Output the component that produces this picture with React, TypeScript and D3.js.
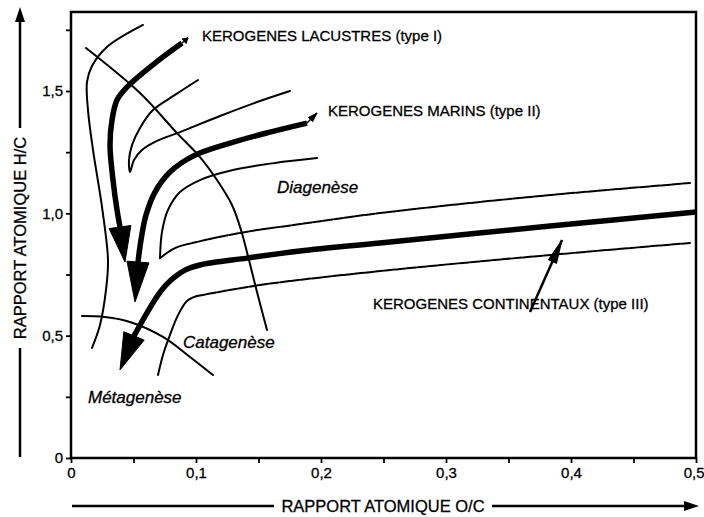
import React, { useEffect, useRef } from 'react';
import * as d3 from 'd3';

type Pt = [number, number];

// axis ticks (O/C and H/C)
const OC_TICKS = [0, 0.05, 0.1, 0.15, 0.2, 0.25, 0.3, 0.35, 0.4, 0.45, 0.5];
const HC_TICKS = [0, 0.25, 0.5, 0.75, 1.0, 1.25, 1.5, 1.75];
const OC_LABELED = [0, 0.1, 0.2, 0.3, 0.4, 0.5];
const HC_LABELED = [0, 0.5, 1.0, 1.5];

// type I outer envelope
const TYPE1_OUTER: Pt[] = [
  [0.0576, 1.770], [0.0288, 1.680], [0.0168, 1.602], [0.0128, 1.537], [0.0136, 1.422],
  [0.0176, 1.259], [0.0248, 1.026], [0.0296, 0.809], [0.0280, 0.687], [0.0232, 0.544], [0.0168, 0.450]
];
// type I main path
const TYPE1_MAIN: Pt[] = [
  [0.0888, 1.696], [0.0672, 1.614], [0.0448, 1.516], [0.0368, 1.463], [0.0328, 1.381],
  [0.0312, 1.279], [0.0336, 1.136], [0.0368, 1.014], [0.0392, 0.944]
];
const TYPE1_TIP: Pt = [0.0432, 0.801];
const TYPE1_TOP_TIP: Pt = [0.0936, 1.717];

// boundary between type I and type II
const TYPE12_BOUND: Pt[] = [
  [0.1016, 1.545], [0.0832, 1.484], [0.0656, 1.422], [0.0552, 1.349], [0.0488, 1.279],
  [0.0464, 1.218], [0.0472, 1.169], [0.0504, 1.218], [0.0568, 1.259], [0.0688, 1.296],
  [0.0872, 1.332], [0.1192, 1.398], [0.1512, 1.459], [0.1752, 1.500]
];

// type II main path
const TYPE2_MAIN: Pt[] = [
  [0.1888, 1.369], [0.1592, 1.332], [0.1272, 1.287], [0.0976, 1.234], [0.0792, 1.169],
  [0.0672, 1.087], [0.0600, 0.993], [0.0560, 0.891], [0.0536, 0.801]
];
const TYPE2_TIP: Pt = [0.0512, 0.638];
const TYPE2_TOP_TIP: Pt = [0.1968, 1.410];

// boundary between type II and type III
const TYPE23_LEFT: Pt[] = [
  [0.1968, 1.226], [0.1632, 1.206], [0.1296, 1.177], [0.1032, 1.136], [0.0872, 1.087],
  [0.0776, 1.014], [0.0728, 0.924], [0.0712, 0.817]
];
const TYPE23_RIGHT: Pt[] = [
  [0.0712, 0.817], [0.0832, 0.858], [0.1008, 0.883], [0.1352, 0.920], [0.1832, 0.956],
  [0.2472, 1.001], [0.3672, 1.067], [0.4952, 1.124]
];

// type III main path
const TYPE3_MAIN: Pt[] = [
  [0.5, 1.005], [0.3832, 0.948], [0.2472, 0.879], [0.1832, 0.846], [0.1408, 0.817],
  [0.1032, 0.789], [0.0912, 0.768], [0.0792, 0.723], [0.0696, 0.666], [0.0608, 0.593], [0.0504, 0.499]
];
const TYPE3_TIP: Pt = [0.0392, 0.360];

// type III lower envelope
const TYPE3_LOWER_KNEE: Pt[] = [
  [0.0696, 0.339], [0.0736, 0.421], [0.0792, 0.503], [0.0856, 0.584], [0.0928, 0.642], [0.1008, 0.662]
];
const TYPE3_LOWER: Pt[] = [
  [0.1008, 0.662], [0.1512, 0.707], [0.2472, 0.764], [0.3752, 0.826], [0.4952, 0.879]
];

// diagenese / catagenese limit
const DIAGENESE_LIMIT: Pt[] = [
  [0.0120, 1.676], [0.0552, 1.492], [0.0848, 1.328], [0.1032, 1.230], [0.1168, 1.136],
  [0.1288, 1.034], [0.1360, 0.932], [0.1424, 0.809], [0.1488, 0.678], [0.1568, 0.523]
];
// catagenese / metagenese limit
const CATAGENESE_LIMIT: Pt[] = [
  [0.0088, 0.580], [0.0272, 0.576], [0.0472, 0.556], [0.0736, 0.495], [0.0952, 0.413], [0.1136, 0.339]
];

// pointer to type III label
const TYPE3_POINTER: Pt[] = [[0.3672, 0.597], [0.3928, 0.891]];

const LABELS = [
  { text: 'KEROGENES LACUSTRES (type I)', at: [0.1048, 1.725] as Pt, italic: false },
  { text: 'KEROGENES MARINS (type II)', at: [0.2056, 1.418] as Pt, italic: false },
  { text: 'Diagenèse', at: [0.1648, 1.108] as Pt, italic: true },
  { text: 'KEROGENES CONTINENTAUX (type III)', at: [0.2416, 0.630] as Pt, italic: false },
  { text: 'Catagenèse', at: [0.0896, 0.474] as Pt, italic: true },
  { text: 'Métagenèse', at: [0.0136, 0.249] as Pt, italic: true }
];

const FONT = "'Liberation Sans', Arial, Helvetica, sans-serif";
const fmt = (d: number) => (d === 0 ? '0' : d.toFixed(1).replace('.', ','));

const App = () => {
  const ref = useRef<SVGSVGElement>(null);

  useEffect(() => {
    const svg = d3.select(ref.current);
    svg.selectAll('*').remove();

    const x = d3.scaleLinear().domain([0, 0.5]).range([71, 696]);
    const y = d3.scaleLinear().domain([0, 1.5]).range([458, 91]);
    const yTop = 1.823;

    const line = d3.line<Pt>()
      .x(d => x(d[0]))
      .y(d => y(d[1]))
      .curve(d3.curveCatmullRom.alpha(0.5));

    const g = svg.append('g');

    // frame
    g.append('rect')
      .attr('x', x(0))
      .attr('y', y(yTop))
      .attr('width', x(0.5) - x(0))
      .attr('height', y(0) - y(yTop))
      .attr('fill', 'none')
      .attr('stroke', '#000')
      .attr('stroke-width', 2.5);

    // axes
    const xAxis = g.append('g')
      .attr('transform', `translate(0,${y(0)})`)
      .call(d3.axisBottom(x).tickValues(OC_TICKS).tickSize(5).tickPadding(4)
        .tickFormat(d => (OC_LABELED.some(v => Math.abs(v - +d) < 1e-6) ? fmt(+d) : '')));
    const yAxis = g.append('g')
      .attr('transform', `translate(${x(0)},0)`)
      .call(d3.axisLeft(y).tickValues(HC_TICKS).tickSize(5).tickPadding(3)
        .tickFormat(d => (HC_LABELED.some(v => Math.abs(v - +d) < 1e-6) ? fmt(+d) : '')));
    [xAxis, yAxis].forEach(ax => {
      ax.select('.domain').remove();
      ax.selectAll('line').attr('stroke', '#000').attr('stroke-width', 1.8);
      ax.selectAll('text')
        .attr('fill', '#000')
        .attr('stroke', '#000')
        .attr('stroke-width', 0.3)
        .style('font-family', FONT)
        .style('font-size', '15px');
    });
    // last O/C label sits at the page edge: keep it inside
    xAxis.selectAll<SVGTextElement, number>('text')
      .filter(d => Math.abs(d - 0.5) < 1e-6)
      .attr('text-anchor', 'end')
      .attr('x', 8);

    const thin = (pts: Pt[], dashed = false) => {
      const p = g.append('path')
        .attr('d', line(pts))
        .attr('fill', 'none')
        .attr('stroke', '#000')
        .attr('stroke-width', 2)
        .attr('stroke-linecap', 'round');
      if (dashed) p.attr('stroke-dasharray', '9,1.6');
    };

    const arrowHead = (base: Pt, tip: Pt, half: number) => {
      const bx = x(base[0]), by = y(base[1]);
      const tx = x(tip[0]), ty = y(tip[1]);
      const dx = tx - bx, dy = ty - by;
      const len = Math.hypot(dx, dy);
      const nx = -dy / len, ny = dx / len;
      g.append('path')
        .attr('d', `M${bx + nx * half},${by + ny * half}L${tx},${ty}L${bx - nx * half},${by - ny * half}Z`)
        .attr('fill', '#000')
        .attr('stroke', '#000')
        .attr('stroke-width', 1)
        .attr('stroke-linejoin', 'miter');
    };

    const thick = (pts: Pt[], tip: Pt, topTip?: Pt) => {
      g.append('path')
        .attr('d', line(pts))
        .attr('fill', 'none')
        .attr('stroke', '#000')
        .attr('stroke-width', 5.5)
        .attr('stroke-linecap', 'butt')
        .attr('stroke-linejoin', 'round');
      arrowHead(pts[pts.length - 1], tip, 11);
      if (topTip) {
        const start = pts[0];
        g.append('line')
          .attr('x1', x(start[0])).attr('y1', y(start[1]))
          .attr('x2', x(topTip[0])).attr('y2', y(topTip[1]))
          .attr('stroke', '#000').attr('stroke-width', 1.5);
        const mid: Pt = [start[0] + (topTip[0] - start[0]) * 0.35, start[1] + (topTip[1] - start[1]) * 0.35];
        arrowHead(mid, topTip, 3);
      }
    };

    // boundaries
    thin(DIAGENESE_LIMIT);
    thin(CATAGENESE_LIMIT);

    // envelopes
    thin(TYPE1_OUTER);
    thin(TYPE12_BOUND);
    thin(TYPE23_LEFT);
    thin(TYPE23_RIGHT, true);
    thin(TYPE3_LOWER_KNEE);
    thin(TYPE3_LOWER, true);

    // evolution paths
    thick(TYPE1_MAIN, TYPE1_TIP, TYPE1_TOP_TIP);
    thick(TYPE2_MAIN, TYPE2_TIP, TYPE2_TOP_TIP);
    thick(TYPE3_MAIN, TYPE3_TIP);

    // pointer to type III label
    g.append('line')
      .attr('x1', x(TYPE3_POINTER[0][0])).attr('y1', y(TYPE3_POINTER[0][1]))
      .attr('x2', x(TYPE3_POINTER[1][0])).attr('y2', y(TYPE3_POINTER[1][1]))
      .attr('stroke', '#000').attr('stroke-width', 2.5);
    const pMid: Pt = [
      TYPE3_POINTER[0][0] + (TYPE3_POINTER[1][0] - TYPE3_POINTER[0][0]) * 0.7,
      TYPE3_POINTER[0][1] + (TYPE3_POINTER[1][1] - TYPE3_POINTER[0][1]) * 0.7
    ];
    arrowHead(pMid, TYPE3_POINTER[1], 4.5);

    // labels
    LABELS.forEach(l => {
      g.append('text')
        .attr('x', x(l.at[0]))
        .attr('y', y(l.at[1]))
        .attr('dy', '0.35em')
        .attr('fill', '#000')
        .attr('stroke', '#000')
        .attr('stroke-width', 0.3)
        .style('font-family', FONT)
        .style('font-size', l.italic ? '17px' : '15px')
        .style('font-style', l.italic ? 'italic' : 'normal')
        .text(l.text);
    });

    // axis titles with arrows
    const xTitleY = 506;
    g.append('text')
      .attr('x', 383).attr('y', xTitleY).attr('dy', '0.35em')
      .attr('text-anchor', 'middle')
      .attr('stroke', '#000').attr('stroke-width', 0.3)
      .style('font-family', FONT).style('font-size', '16.5px')
      .text('RAPPORT ATOMIQUE O/C');
    g.append('line').attr('x1', 72).attr('x2', 274).attr('y1', xTitleY).attr('y2', xTitleY)
      .attr('stroke', '#000').attr('stroke-width', 2.5);
    g.append('line').attr('x1', 492).attr('x2', 686).attr('y1', xTitleY).attr('y2', xTitleY)
      .attr('stroke', '#000').attr('stroke-width', 2.5);
    g.append('path')
      .attr('d', `M684,${xTitleY - 5}L699,${xTitleY}L684,${xTitleY + 5}Z`)
      .attr('fill', '#000');

    const yTitleX = 20;
    g.append('text')
      .attr('transform', `translate(${yTitleX},238) rotate(-90)`)
      .attr('dy', '0.35em')
      .attr('text-anchor', 'middle')
      .attr('stroke', '#000').attr('stroke-width', 0.3)
      .style('font-family', FONT).style('font-size', '16.5px')
      .text('RAPPORT ATOMIQUE H/C');
    g.append('line').attr('x1', yTitleX).attr('x2', yTitleX).attr('y1', 457).attr('y2', 348)
      .attr('stroke', '#000').attr('stroke-width', 2.5);
    g.append('line').attr('x1', yTitleX).attr('x2', yTitleX).attr('y1', 128).attr('y2', 20)
      .attr('stroke', '#000').attr('stroke-width', 2.5);
    g.append('path')
      .attr('d', `M${yTitleX - 5},22L${yTitleX},7L${yTitleX + 5},22Z`)
      .attr('fill', '#000');
  }, []);

  return (
    <svg
      ref={ref}
      width={704}
      height={517}
      style={{ position: 'absolute', left: 0, top: 0, background: '#fff', display: 'block' }}
    />
  );
};

export default App;
